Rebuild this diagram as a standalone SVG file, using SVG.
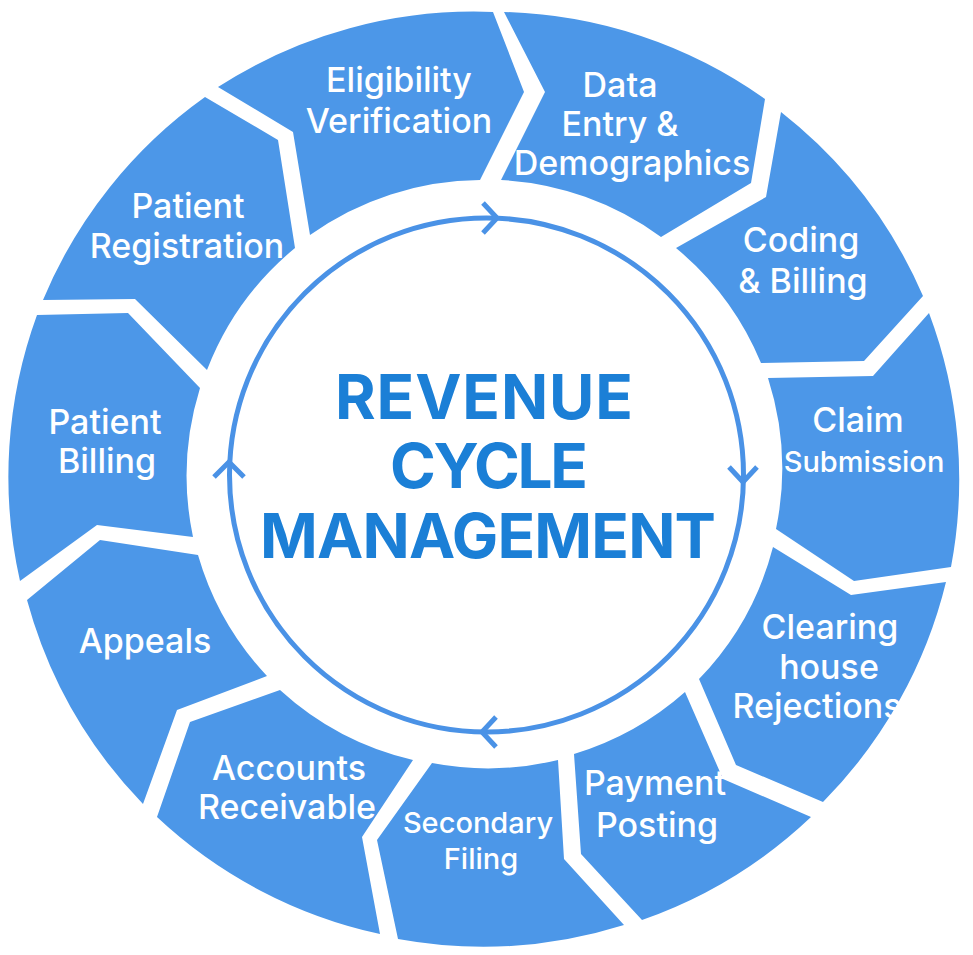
<svg xmlns="http://www.w3.org/2000/svg" width="973" height="955" viewBox="0 0 973 955">
<style>
.seg{fill:#4C97E8;}
.lbl{fill:#ffffff;font-family:Inter,"Noto Sans","Liberation Sans",sans-serif;font-size:34px;font-weight:500;text-anchor:middle;}
.sm{font-size:29px;}
.title{fill:#1B7FD6;font-family:Inter,"Liberation Sans",sans-serif;font-size:62px;font-weight:700;text-anchor:middle;}
.ring{fill:none;stroke:#4A92E6;stroke-width:5;}
.chev{fill:none;stroke:#4A92E6;stroke-width:5;stroke-linecap:butt;stroke-linejoin:miter;}
</style>
<rect width="973" height="955" fill="#ffffff"/>
<g id="eligibility-verification">
<path class="seg" d="M218,87 A472,472 0 0 1 493,12 L524,92 L480,180 A297,297 0 0 0 310,235 L293,132 Z"/>
<text class="lbl" x="399" y="92">Eligibility</text>
<text class="lbl" x="399" y="133">Verification</text>
</g>
<g id="data-entry">
<path class="seg" d="M504,12 A472,472 0 0 1 765,99 L751,183 L661,237 A297,297 0 0 0 501,180 L545,92 Z"/>
<text class="lbl" x="620" y="97">Data</text>
<text class="lbl" x="620" y="136">Entry &amp;</text>
<text class="lbl" x="632" y="175">Demographics</text>
</g>
<g id="coding-billing">
<path class="seg" d="M781,112 A472,472 0 0 1 923,296 L864,361 L761,363 A297,297 0 0 0 676,248 L766,197 Z"/>
<text class="lbl" x="801" y="252">Coding</text>
<text class="lbl" x="803" y="293">&amp; Billing</text>
</g>
<g id="claim-submission">
<path class="seg" d="M929,313 A472,472 0 0 1 951,567 L854,581 L776,529 A297,297 0 0 0 768,378 L873,376 Z"/>
<text class="lbl" x="858" y="432">Claim</text>
<text class="lbl sm" x="864" y="472">Submission</text>
</g>
<g id="clearing-house-rejections">
<path class="seg" d="M946,582 A472,472 0 0 1 823,802 L736,765 L699,679 A297,297 0 0 0 773,547 L851,595 Z"/>
<text class="lbl" x="830" y="639">Clearing</text>
<text class="lbl" x="829" y="679">house</text>
<text class="lbl" x="817" y="718">Rejections</text>
</g>
<g id="payment-posting">
<path class="seg" d="M811,817 A472,472 0 0 1 642,920 L581,854 L574,754 A297,297 0 0 0 685,692 L723,779 Z"/>
<text class="lbl" x="655" y="795">Payment</text>
<text class="lbl" x="657" y="837">Posting</text>
</g>
<g id="secondary-filing">
<path class="seg" d="M624,925 A472,472 0 0 1 398,939 L377,840 L432,763 A297,297 0 0 0 558,760 L564,859 Z"/>
<text class="lbl sm" x="478" y="833">Secondary</text>
<text class="lbl sm" x="481" y="869">Filing</text>
</g>
<g id="accounts-receivable">
<path class="seg" d="M380,934 A472,472 0 0 1 157,817 L190,722 L280,690 A297,297 0 0 0 413,760 L362,837 Z"/>
<text class="lbl" x="289" y="780">Accounts</text>
<text class="lbl" x="287" y="819">Receivable</text>
</g>
<g id="appeals">
<path class="seg" d="M143,804 A472,472 0 0 1 27,600 L100,540 L198,555 A297,297 0 0 0 267,676 L177,710 Z"/>
<text class="lbl" x="145" y="653">Appeals</text>
</g>
<g id="patient-billing">
<path class="seg" d="M20,581 A472,472 0 0 1 37,315 L128,313 L200,388 A297,297 0 0 0 193,537 L97,525 Z"/>
<text class="lbl" x="105" y="434">Patient</text>
<text class="lbl" x="107" y="473">Billing</text>
</g>
<g id="patient-registration">
<path class="seg" d="M43,300 A472,472 0 0 1 205,97 L278,140 L295,248 A297,297 0 0 0 207,370 L135,299 Z"/>
<text class="lbl" x="188" y="218">Patient</text>
<text class="lbl" x="187" y="258">Registration</text>
</g>
<g id="center">
<text class="title" x="484" y="419" textLength="298" lengthAdjust="spacing">REVENUE</text>
<text class="title" x="489" y="488" textLength="198" lengthAdjust="spacing">CYCLE</text>
<text class="title" x="488" y="558" textLength="456" lengthAdjust="spacing">MANAGEMENT</text>
</g>
<g id="connectors">
<circle class="ring" cx="486.5" cy="475" r="257"/>
<path class="chev" d="M483,203 L497,218 L483,233"/>
<path class="chev" d="M729,467 L743,482 L757,467"/>
<path class="chev" d="M496,717 L482,732 L496,747"/>
<path class="chev" d="M214,477 L229,462 L244,477"/>
</g>
</svg>
